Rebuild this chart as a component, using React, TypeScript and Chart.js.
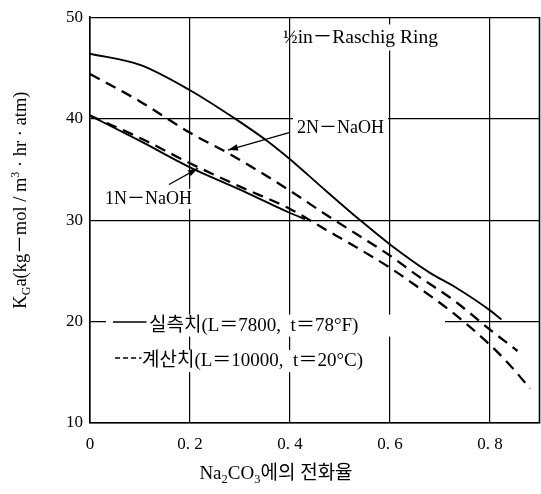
import React, { useEffect, useRef } from "react";
import { Chart, registerables } from "chart.js";

Chart.register(...registerables);

const SERIF = "'Liberation Serif', 'Times New Roman', 'Noto Sans CJK KR', serif";

// axis ticks
const xTicks = [0, 0.2, 0.4, 0.6, 0.8];
const yTicks = [10, 20, 30, 40, 50];

// 2N-NaOH, measured (solid)
const meas2N_x = [0, 0.1, 0.2, 0.29, 0.357, 0.4, 0.46, 0.54, 0.6, 0.68, 0.73, 0.8, 0.823];
const meas2N_y = [46.4, 45.3, 42.8, 40.0, 37.7, 36.0, 33.4, 30.0, 27.6, 24.8, 23.4, 21.1, 20.2];

// 1N-NaOH, measured (solid)
const meas1N_x = [0, 0.1, 0.2, 0.3, 0.4, 0.43];
const meas1N_y = [40.3, 37.8, 35.2, 33.0, 30.7, 30.1];

// 2N-NaOH, calculated (dashed)
const calc2N_x = [0, 0.1, 0.2, 0.28, 0.4, 0.47, 0.54, 0.6, 0.65, 0.73, 0.8, 0.855];
const calc2N_y = [44.4, 41.7, 38.6, 36.5, 32.9, 30.6, 28.4, 26.5, 24.7, 22.0, 19.2, 17.1];

// 1N-NaOH, calculated (dashed)
const calc1N_x = [0, 0.1, 0.2, 0.3, 0.4, 0.47, 0.53, 0.6, 0.65, 0.73, 0.8, 0.84, 0.88];
const calc1N_y = [40.3, 38.1, 35.6, 33.3, 31.1, 29.1, 27.4, 25.3, 23.6, 20.7, 17.7, 15.7, 13.4];

// texts
const titleRing = "½in－Raschig Ring";
const label2N = "2N－NaOH";
const label1N = "1N－NaOH";
const legendMeasured = "실측치(L＝7800,  t＝78°F)";
const legendCalc = "계산치(L＝10000,  t＝20°C)";

type Part = { t: string; size: number; dy?: number };
const yTitleParts: Part[] = [
  { t: "K", size: 18.5 },
  { t: "G", size: 12, dy: 4 },
  { t: "a(kg－mol / m", size: 18.5 },
  { t: "3", size: 12, dy: -7 },
  { t: " · hr · atm)", size: 18.5 },
];
const xTitleParts: Part[] = [
  { t: "Na", size: 19 },
  { t: "2", size: 12.5, dy: 4 },
  { t: "CO", size: 19 },
  { t: "3", size: 12.5, dy: 4 },
  { t: "에의 전화율", size: 19 },
];

function richWidth(ctx: CanvasRenderingContext2D, parts: Part[]) {
  let w = 0;
  for (const p of parts) {
    ctx.font = `${p.size}px ${SERIF}`;
    w += ctx.measureText(p.t).width;
  }
  return w;
}
function drawRich(ctx: CanvasRenderingContext2D, parts: Part[], x0: number, base: number) {
  let x = x0;
  for (const p of parts) {
    ctx.font = `${p.size}px ${SERIF}`;
    ctx.fillText(p.t, x, base + (p.dy || 0));
    x += ctx.measureText(p.t).width;
  }
}
function arrow(ctx: CanvasRenderingContext2D, x1: number, y1: number, x2: number, y2: number) {
  ctx.beginPath();
  ctx.moveTo(x1, y1);
  ctx.lineTo(x2, y2);
  ctx.stroke();
  const ang = Math.atan2(y2 - y1, x2 - x1);
  const L = 10, W = 3.2;
  ctx.beginPath();
  ctx.moveTo(x2, y2);
  ctx.lineTo(x2 - L * Math.cos(ang) + W * Math.sin(ang), y2 - L * Math.sin(ang) - W * Math.cos(ang));
  ctx.lineTo(x2 - L * Math.cos(ang) - W * Math.sin(ang), y2 - L * Math.sin(ang) + W * Math.cos(ang));
  ctx.closePath();
  ctx.fill();
}

const annot = {
  id: "annot",
  beforeDatasetsDraw(chart: any) {
    const { ctx, scales } = chart;
    const sx = scales.x, sy = scales.y;
    ctx.save();
    ctx.fillStyle = "#fff";
    // white boxes behind the labels
    ctx.font = `19.5px ${SERIF}`;
    const halfW = ctx.measureText("½").width;
    const wr = ctx.measureText(titleRing).width;
    const rx = sx.getPixelForValue(0.386);
    ctx.fillRect(rx + halfW + 1, sy.getPixelForValue(48.0) - 13, wr - halfW + 2, 26);
    ctx.font = `18px ${SERIF}`;
    const w2 = ctx.measureText(label2N).width;
    ctx.fillRect(sx.getPixelForValue(0.414) - 4, sy.getPixelForValue(39.1) - 10, w2 + 8, 20);
    const w1 = ctx.measureText(label1N).width;
    ctx.fillRect(sx.getPixelForValue(0.03) - 2, sy.getPixelForValue(32.1) - 10, w1 + 4, 20);
    ctx.font = `19px ${SERIF}`;
    const lc = ctx.measureText(legendCalc).width;
    const lx0 = sx.getPixelForValue(0.032);
    ctx.fillRect(lx0, sy.getPixelForValue(19.6) - 11, sx.getPixelForValue(0.71) - lx0, 22);
    const t2x = sx.getPixelForValue(0.104);
    ctx.fillRect(lx0, sy.getPixelForValue(16.1) - 11, t2x + lc - lx0 + 2, 22);
    ctx.restore();
  },
  afterDatasetsDraw(chart: any) {
    const { ctx, scales, chartArea: a } = chart;
    const sx = scales.x, sy = scales.y;
    ctx.save();
    // right border
    ctx.strokeStyle = "#000";
    ctx.lineWidth = 1.6;
    ctx.beginPath();
    ctx.moveTo(a.right - 0.5, a.top);
    ctx.lineTo(a.right - 0.5, a.bottom);
    ctx.stroke();

    ctx.fillStyle = "#000";
    ctx.textBaseline = "middle";
    ctx.textAlign = "left";
    ctx.font = `19.5px ${SERIF}`;
    ctx.fillText(titleRing, sx.getPixelForValue(0.386), sy.getPixelForValue(48.0));
    ctx.font = `18px ${SERIF}`;
    ctx.fillText(label2N, sx.getPixelForValue(0.414), sy.getPixelForValue(39.1));
    ctx.fillText(label1N, sx.getPixelForValue(0.03), sy.getPixelForValue(32.1));

    // arrows
    ctx.lineWidth = 1.2;
    arrow(ctx, sx.getPixelForValue(0.40), sy.getPixelForValue(38.65), sx.getPixelForValue(0.276), sy.getPixelForValue(36.9));
    arrow(ctx, sx.getPixelForValue(0.158), sy.getPixelForValue(33.5), sx.getPixelForValue(0.216), sy.getPixelForValue(35.1));

    // legend
    ctx.font = `19px ${SERIF}`;
    ctx.lineWidth = 1.6;
    ctx.beginPath();
    ctx.moveTo(sx.getPixelForValue(0.046), sy.getPixelForValue(19.95));
    ctx.lineTo(sx.getPixelForValue(0.113), sy.getPixelForValue(19.95));
    ctx.stroke();
    ctx.fillText(legendMeasured, sx.getPixelForValue(0.118), sy.getPixelForValue(19.55));
    ctx.setLineDash([5, 3]);
    ctx.lineWidth = 1.4;
    ctx.beginPath();
    ctx.moveTo(sx.getPixelForValue(0.05), sy.getPixelForValue(16.4));
    ctx.lineTo(sx.getPixelForValue(0.103), sy.getPixelForValue(16.4));
    ctx.stroke();
    ctx.setLineDash([]);
    ctx.fillText(legendCalc, sx.getPixelForValue(0.104), sy.getPixelForValue(16.1));

    // axis titles
    ctx.textBaseline = "alphabetic";
    const yw = richWidth(ctx, yTitleParts);
    ctx.translate(20, (a.top + a.bottom) / 2 - 20);
    ctx.rotate(-Math.PI / 2);
    drawRich(ctx, yTitleParts, -yw / 2, 6);
    ctx.setTransform(1, 0, 0, 1, 0, 0);
    const xw = richWidth(ctx, xTitleParts);
    drawRich(ctx, xTitleParts, (a.left + a.right) / 2 - 39 - xw / 2, 479);
    ctx.restore();
  },
};

const mk = (xs: number[], ys: number[]) => xs.map((x, i) => ({ x, y: ys[i] }));

export default function App() {
  const ref = useRef<HTMLCanvasElement>(null);
  useEffect(() => {
    const canvas = ref.current!;
    const common = { pointRadius: 0, borderColor: "#000", fill: false, cubicInterpolationMode: "monotone" as const };
    const chart = new Chart(canvas, {
      type: "line",
      data: {
        datasets: [
          { label: "2N-NaOH 실측치", data: mk(meas2N_x, meas2N_y), borderWidth: 1.9, ...common },
          { label: "1N-NaOH 실측치", data: mk(meas1N_x, meas1N_y), borderWidth: 1.9, ...common },
          { label: "2N-NaOH 계산치", data: mk(calc2N_x, calc2N_y), borderWidth: 2.3, borderDash: [11, 7], ...common },
          { label: "1N-NaOH 계산치", data: mk(calc1N_x, calc1N_y), borderWidth: 2.3, borderDash: [11, 7], ...common },
        ],
      },
      options: {
        animation: false,
        responsive: false,
        layout: { padding: { top: 14, right: 1, left: 0, bottom: 0 } },
        plugins: { legend: { display: false }, tooltip: { enabled: false } },
        scales: {
          x: {
            type: "linear",
            min: 0,
            max: 0.9,
            afterBuildTicks: (s: any) => {
              s.ticks = xTicks.map((v) => ({ value: v }));
            },
            afterFit: (s: any) => {
              s.height = 71;
            },
            grid: { color: "#000", lineWidth: 1.2, drawTicks: false },
            border: { color: "#000", width: 1.6 },
            ticks: {
              padding: 11,
              color: "#000",
              font: { family: SERIF, size: 17 },
              callback: (v: any) => (Number(v) === 0 ? "0" : Number(v).toFixed(1).replace(".", ". ")),
            },
          },
          y: {
            type: "linear",
            min: 10,
            max: 50,
            afterBuildTicks: (s: any) => {
              s.ticks = yTicks.map((v) => ({ value: v }));
            },
            afterFit: (s: any) => {
              s.width = 90;
            },
            grid: { color: "#000", lineWidth: 1.2, drawTicks: false },
            border: { color: "#000", width: 1.6 },
            ticks: {
              padding: 7,
              color: "#000",
              font: { family: SERIF, size: 17 },
              callback: (v: any) => String(v),
            },
          },
        },
      },
      plugins: [annot],
    });
    return () => chart.destroy();
  }, []);
  return (
    <canvas
      ref={ref}
      width={541}
      height={494}
      style={{ position: "fixed", left: 0, top: 0, width: 541, height: 494 }}
    />
  );
}
